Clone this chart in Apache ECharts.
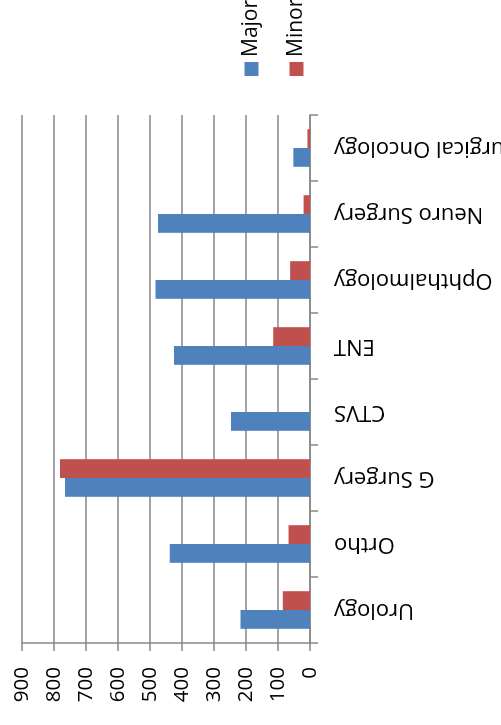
<!DOCTYPE html>
<html>
<head>
<meta charset="utf-8">
<script src="https://cdn.jsdelivr.net/npm/echarts@6/dist/echarts.min.js"></script>
<style>
  html, body { margin: 0; padding: 0; width: 501px; height: 725px; overflow: hidden; background: #fff; }
  #chart {
    position: absolute; left: 0; top: 0;
    width: 725px; height: 501px;
    transform-origin: 0 0;
    transform: translate(0px, 725px) rotate(-90deg);
  }
</style>
</head>
<body>
<div id="chart"></div>
<script>
const categories = ['Urology', 'Ortho', 'G Surgery', 'CTVS', 'ENT', 'Ophthalmology', 'Neuro Surgery', 'Surgical Oncology'];
const majorValues = [217, 438, 766, 247, 425, 483, 475, 52];
const minorValues = [85, 67, 781, 0, 115, 62, 20, 8];
const seriesNames = ['Major', 'Minor'];
const valueMin = 0, valueMax = 900, valueStep = 100;

const font = 'Open Sans';
const axisGray = '#868686';
const chart = echarts.init(document.getElementById('chart'), null, { renderer: 'canvas', devicePixelRatio: 1 });
chart.setOption({
  animation: false,
  backgroundColor: '#fff',
  grid: { left: 82, right: 115, top: 22, bottom: 191, containLabel: false, outerBoundsMode: 'none' },
  legend: {
    orient: 'vertical', left: 649, top: 241, padding: 0,
    itemWidth: 14, itemHeight: 14, itemGap: 24, icon: 'rect',
    textStyle: { fontFamily: font, fontSize: 21, color: '#000' },
    data: seriesNames
  },
  xAxis: {
    type: 'category', data: categories,
    axisLine: { lineStyle: { color: axisGray, width: 1.5 } },
    axisTick: { show: true, length: 8, lineStyle: { color: axisGray, width: 1.5 } },
    axisLabel: { interval: 0, rotate: 90, margin: 24, fontFamily: font, fontSize: 22, color: '#000' },
    splitLine: { show: false }
  },
  yAxis: {
    type: 'value', min: valueMin, max: valueMax, interval: valueStep,
    axisLine: { show: true, lineStyle: { color: axisGray, width: 1.5 } },
    axisTick: { show: true, length: 8, lineStyle: { color: axisGray, width: 1.5 } },
    axisLabel: { margin: 24, fontFamily: font, fontSize: 20.5, color: '#000' },
    splitLine: { show: true, lineStyle: { color: axisGray, width: 1.5 } }
  },
  series: [
    { name: seriesNames[0], type: 'bar', data: majorValues, itemStyle: { color: '#4F81BD' }, barGap: '0%', barCategoryGap: '43%' },
    { name: seriesNames[1], type: 'bar', data: minorValues, itemStyle: { color: '#C0504D' }, barGap: '0%', barCategoryGap: '43%' }
  ]
});
</script>
</body>
</html>
